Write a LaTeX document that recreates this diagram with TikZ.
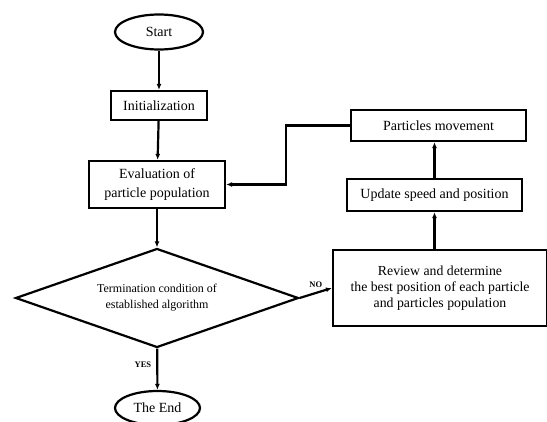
\documentclass[tikz,border=0pt]{standalone}
\usepackage{fontspec}
\setmainfont{Liberation Serif}
\usetikzlibrary{shapes.geometric,arrows.meta}
\begin{document}
\begin{tikzpicture}[x=1pt,y=-1pt,
  every node/.style={inner sep=0pt,align=center},
  boxnode/.style={draw,rectangle,line width=2.2pt},
  termnode/.style={draw,ellipse,line width=2.2pt,font=\fontsize{14}{16}\selectfont},
  bigfont/.style={font=\fontsize{14}{19}\selectfont},
  smallfont/.style={font=\fontsize{12}{16}\selectfont},
  midfont/.style={font=\fontsize{13.8}{16}\selectfont},
  lbl/.style={font=\bfseries\fontsize{8.5}{9}\selectfont},
  conn/.style={line width=2.2pt,-{Latex[length=6pt,width=5pt]}}]
\useasboundingbox (0,0) rectangle (547,421);
\clip (0,0) rectangle (547,421);
\node[termnode,minimum width=88pt,minimum height=35pt] (start) at (159,32) {Start};
\node[boxnode,bigfont,minimum width=96pt,minimum height=29pt] (init) at (159,105.5) {Initialization};
\node[boxnode,bigfont,minimum width=136pt,minimum height=47pt] (eval) at (157,184.5) {Evaluation of\\particle population};
\node[draw,diamond,aspect=2.86,line width=2.2pt,smallfont,minimum width=283pt,minimum height=99pt] (cond) at (157,298) {Termination condition of\\established algorithm};
\node[termnode,minimum width=85pt,minimum height=34pt] (end) at (157.5,408) {The End};
\node[boxnode,midfont,minimum width=214pt,minimum height=76pt] (review) at (440,288) {Review and determine\\the best position of each particle\\and particles population};
\node[boxnode,bigfont,minimum width=175pt,minimum height=32pt] (update) at (434.5,195) {Update speed and position};
\node[boxnode,bigfont,minimum width=175pt,minimum height=31pt] (move) at (438.5,125.5) {Particles movement};
\draw[conn] (start) -- (init);
\draw[conn] (init) -- (eval);
\draw[conn] (eval) -- (cond);
\draw[conn] (cond) -- node[lbl,left=5pt,pos=0.4] (yes) {YES} (end);
\draw[conn] (cond.east) -- node[lbl,above=4pt] (no) {NO} (review.west);
\draw[conn] (update.south |- review.north) -- (update.south);
\draw[conn] (update.north) -- (update.north |- move.south);
\draw[conn] (move.west) -- ++(-64,0) |- (eval.east);
\end{tikzpicture}
\end{document}
